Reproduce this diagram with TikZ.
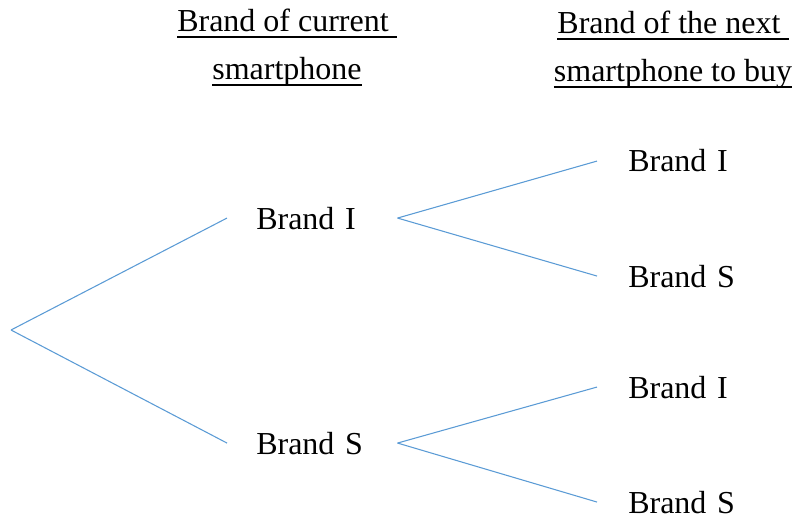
\documentclass[tikz,border=0pt]{standalone}
\usepackage{fontspec}
\setmainfont{Liberation Serif}
\usepackage{tikz}
\definecolor{branchblue}{HTML}{5B9BD5}
\newcommand{\underhead}[1]{\setbox0=\hbox{#1}\rlap{\rule[-4.25pt]{\wd0}{1.4pt}}\box0}
\tikzset{
  branch/.style={branchblue, line width=0.8pt},
  choice/.style={anchor=base west, inner ysep=0pt, inner xsep=21.75pt, text width=84pt, align=left, font=\fontsize{24}{29}\selectfont},
  later/.style={choice, inner xsep=23.25pt},
  heading/.style={anchor=base, align=center, inner sep=0pt, font=\fontsize{24}{36}\selectfont}
}

\begin{document}
\begin{tikzpicture}[x=0.75pt,y=-0.75pt]
\useasboundingbox (0,0) rectangle (795,520);
%\draw (0,0) rectangle (795,520);
\node [heading] (headnow) at (287,80) {\underhead{Brand of current\ }\\\underhead{smartphone}};
\node [heading] (headnext) at (673,82) {\underhead{Brand of the next\ }\\\underhead{smartphone to buy}};
\coordinate (root) at (11,330);
\node [choice] (nowI) at (227,229) {Brand I};
\node [choice] (nowS) at (227,454) {Brand S};
\node [later] (nextII) at (597,172) {Brand I};
\node [later] (nextIS) at (597,287) {Brand S};
\node [later] (nextSI) at (597,398) {Brand I};
\node [later] (nextSS) at (597,513) {Brand S};
\draw [branch] (root) -- (nowI.west);
\draw [branch] (root) -- (nowS.west);
\draw [branch] (nowI.east) -- (nextII.west);
\draw [branch] (nowI.east) -- (nextIS.west);
\draw [branch] (nowS.east) -- (nextSI.west);
\draw [branch] (nowS.east) -- (nextSS.west);
\end{tikzpicture}
\end{document}
